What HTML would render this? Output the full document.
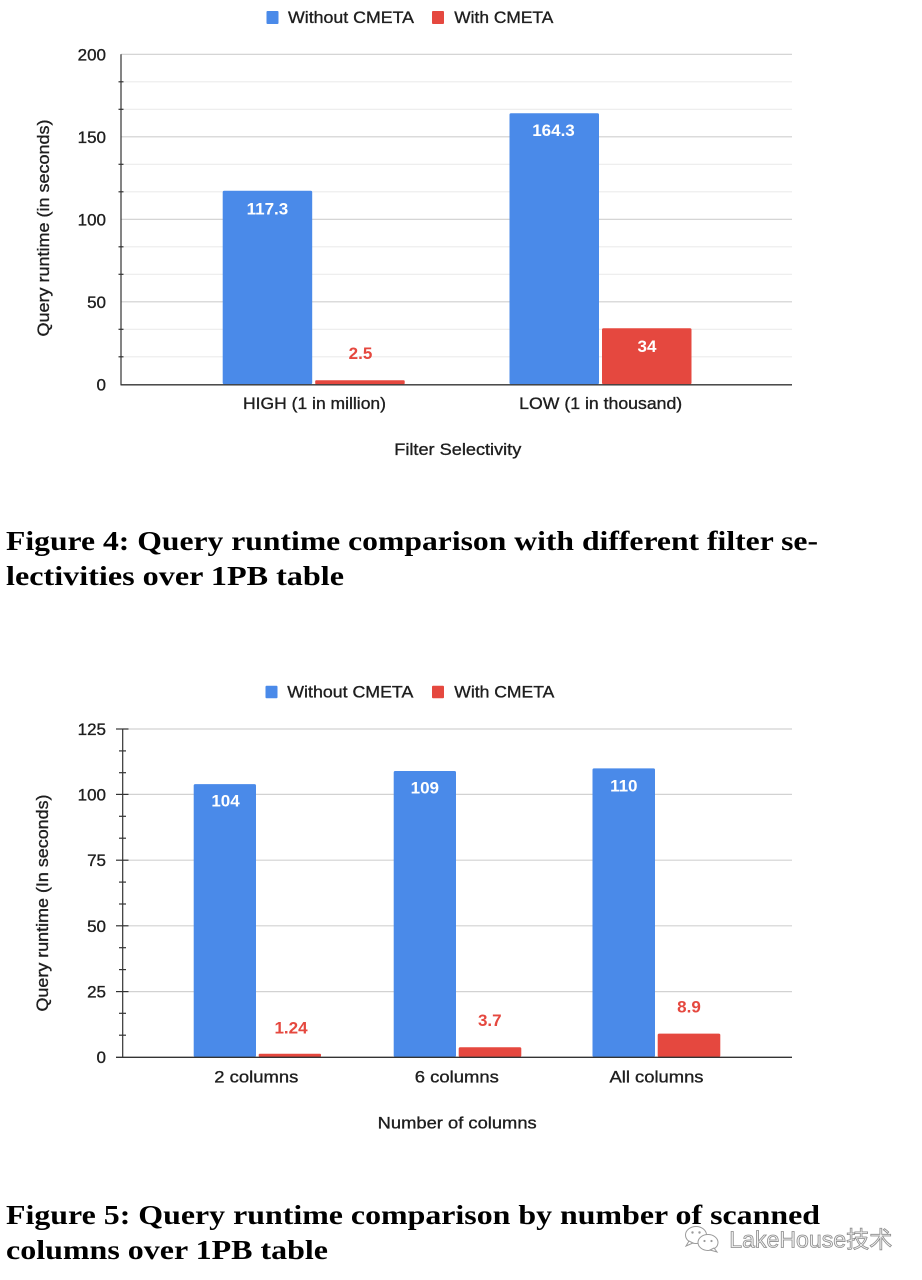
<!DOCTYPE html>
<html>
<head>
<meta charset="utf-8">
<style>
  html,body{margin:0;padding:0;background:#fff;}
  svg{display:block;}
  .t{font-family:"Liberation Sans","Noto Sans CJK SC",sans-serif;fill:#1e1e1e;font-size:17px;stroke:#1e1e1e;stroke-width:0.35;}
  .d{font-family:"Liberation Sans",sans-serif;font-size:17px;font-weight:bold;}
  .cap{font-family:"Liberation Serif","Noto Serif CJK SC",serif;font-weight:bold;fill:#000;font-size:27px;}
</style>
</head>
<body>
<svg width="922" height="1280" viewBox="0 0 922 1280" xmlns="http://www.w3.org/2000/svg">
  <rect x="0" y="0" width="922" height="1280" fill="#fff"/>

  <!-- ================= CHART 1 ================= -->
  <rect x="266.5" y="11" width="12" height="13" fill="#4a8ae9" rx="1"/>
  <text class="t" x="288" y="23" textLength="126" lengthAdjust="spacingAndGlyphs">Without CMETA</text>
  <rect x="432" y="11" width="12" height="13" fill="#e5483f" rx="1"/>
  <text class="t" x="454.3" y="23" textLength="99" lengthAdjust="spacingAndGlyphs">With CMETA</text>

  <g stroke="#ebebeb" stroke-width="1.2">
    <line x1="121" y1="356.8" x2="792" y2="356.8"/>
    <line x1="121" y1="329.3" x2="792" y2="329.3"/>
    <line x1="121" y1="274.3" x2="792" y2="274.3"/>
    <line x1="121" y1="246.8" x2="792" y2="246.8"/>
    <line x1="121" y1="191.8" x2="792" y2="191.8"/>
    <line x1="121" y1="164.3" x2="792" y2="164.3"/>
    <line x1="121" y1="109.3" x2="792" y2="109.3"/>
    <line x1="121" y1="81.8" x2="792" y2="81.8"/>
  </g>
  <g stroke="#cfcfcf" stroke-width="1.2">
    <line x1="121" y1="54.3" x2="792" y2="54.3"/>
    <line x1="121" y1="136.8" x2="792" y2="136.8"/>
    <line x1="121" y1="219.3" x2="792" y2="219.3"/>
    <line x1="121" y1="301.8" x2="792" y2="301.8"/>
  </g>
  <line x1="121" y1="54.3" x2="121" y2="385" stroke="#333" stroke-width="1.2"/>
  <g stroke="#333" stroke-width="1.2">
    <line x1="118.5" y1="356.8" x2="123.5" y2="356.8"/>
    <line x1="118.5" y1="329.3" x2="123.5" y2="329.3"/>
    <line x1="118.5" y1="274.3" x2="123.5" y2="274.3"/>
    <line x1="118.5" y1="246.8" x2="123.5" y2="246.8"/>
    <line x1="118.5" y1="191.8" x2="123.5" y2="191.8"/>
    <line x1="118.5" y1="164.3" x2="123.5" y2="164.3"/>
    <line x1="118.5" y1="109.3" x2="123.5" y2="109.3"/>
    <line x1="118.5" y1="81.8" x2="123.5" y2="81.8"/>
  </g>
  <g text-anchor="end">
    <text class="t" x="106" y="60.3">200</text>
    <text class="t" x="106" y="142.8">150</text>
    <text class="t" x="106" y="225.3">100</text>
    <text class="t" x="106" y="307.8">50</text>
    <text class="t" x="106" y="390.3">0</text>
  </g>
  <text class="t" transform="translate(49,228) rotate(-90)" text-anchor="middle" textLength="217" lengthAdjust="spacingAndGlyphs">Query runtime (in seconds)</text>

  <rect x="222.7" y="190.8" width="89.5" height="193.5" fill="#4a8ae9" rx="1.5"/>
  <rect x="315.2" y="380.2" width="89.5" height="4.1" fill="#e5483f" rx="1"/>
  <rect x="509.5" y="113.2" width="89.5" height="271.1" fill="#4a8ae9" rx="1.5"/>
  <rect x="602" y="328.2" width="89.5" height="56.1" fill="#e5483f" rx="1.5"/>
  <line x1="120.5" y1="384.8" x2="792" y2="384.8" stroke="#333" stroke-width="1.4"/>

  <text class="d" x="267.4" y="214.3" text-anchor="middle" fill="#fff">117.3</text>
  <text class="d" x="553.5" y="136" text-anchor="middle" fill="#fff">164.3</text>
  <text class="d" x="360.5" y="359" text-anchor="middle" fill="#e5483f">2.5</text>
  <text class="d" x="647" y="352" text-anchor="middle" fill="#fff">34</text>

  <text class="t" x="314.5" y="409" text-anchor="middle" textLength="143" lengthAdjust="spacingAndGlyphs">HIGH (1 in million)</text>
  <text class="t" x="600.7" y="409" text-anchor="middle" textLength="163" lengthAdjust="spacingAndGlyphs">LOW (1 in thousand)</text>
  <text class="t" x="457.8" y="455" text-anchor="middle" textLength="127" lengthAdjust="spacingAndGlyphs">Filter Selectivity</text>

  <text class="cap" x="6" y="550" textLength="812" lengthAdjust="spacingAndGlyphs">Figure 4: Query runtime comparison with different filter se-</text>
  <text class="cap" x="6" y="585" textLength="338" lengthAdjust="spacingAndGlyphs">lectivities over 1PB table</text>

  <!-- ================= CHART 2 ================= -->
  <rect x="265.5" y="685.7" width="12" height="12.6" fill="#4a8ae9" rx="1"/>
  <text class="t" x="287.3" y="697.7" textLength="126" lengthAdjust="spacingAndGlyphs">Without CMETA</text>
  <rect x="432" y="685.7" width="12" height="12.6" fill="#e5483f" rx="1"/>
  <text class="t" x="454.3" y="697.7" textLength="100" lengthAdjust="spacingAndGlyphs">With CMETA</text>

  <g stroke="#d2d2d2" stroke-width="1.2">
    <line x1="122.7" y1="729" x2="792" y2="729"/>
    <line x1="122.7" y1="794.4" x2="792" y2="794.4"/>
    <line x1="122.7" y1="860.2" x2="792" y2="860.2"/>
    <line x1="122.7" y1="925.8" x2="792" y2="925.8"/>
    <line x1="122.7" y1="991.6" x2="792" y2="991.6"/>
  </g>
  <line x1="122.7" y1="729" x2="122.7" y2="1057" stroke="#333" stroke-width="1.2"/>
  <g stroke="#333" stroke-width="1.2">
    <line x1="116" y1="729" x2="128.5" y2="729"/>
    <line x1="116" y1="794.4" x2="128.5" y2="794.4"/>
    <line x1="116" y1="860.2" x2="128.5" y2="860.2"/>
    <line x1="116" y1="925.8" x2="128.5" y2="925.8"/>
    <line x1="116" y1="991.6" x2="128.5" y2="991.6"/>
    <line x1="119" y1="750.9" x2="126" y2="750.9"/>
    <line x1="119" y1="772.7" x2="126" y2="772.7"/>
    <line x1="119" y1="816.3" x2="126" y2="816.3"/>
    <line x1="119" y1="838.2" x2="126" y2="838.2"/>
    <line x1="119" y1="882.1" x2="126" y2="882.1"/>
    <line x1="119" y1="904" x2="126" y2="904"/>
    <line x1="119" y1="947.7" x2="126" y2="947.7"/>
    <line x1="119" y1="969.6" x2="126" y2="969.6"/>
    <line x1="119" y1="1013.3" x2="126" y2="1013.3"/>
    <line x1="119" y1="1035.2" x2="126" y2="1035.2"/>
  </g>
  <g text-anchor="end">
    <text class="t" x="106" y="735">125</text>
    <text class="t" x="106" y="800.4">100</text>
    <text class="t" x="106" y="866.2">75</text>
    <text class="t" x="106" y="931.8">50</text>
    <text class="t" x="106" y="997.6">25</text>
    <text class="t" x="106" y="1063">0</text>
  </g>
  <text class="t" transform="translate(48,903) rotate(-90)" text-anchor="middle" textLength="217" lengthAdjust="spacingAndGlyphs">Query runtime (In seconds)</text>

  <rect x="193.7" y="784.1" width="62.3" height="272.9" fill="#4a8ae9" rx="1.5"/>
  <rect x="258.7" y="1053.7" width="62.3" height="3.3" fill="#e5483f" rx="1"/>
  <rect x="393.7" y="771" width="62.3" height="286" fill="#4a8ae9" rx="1.5"/>
  <rect x="458.7" y="1047.3" width="62.6" height="9.7" fill="#e5483f" rx="1.5"/>
  <rect x="592.5" y="768.4" width="62.5" height="288.6" fill="#4a8ae9" rx="1.5"/>
  <rect x="657.7" y="1033.6" width="62.6" height="23.4" fill="#e5483f" rx="1.5"/>
  <line x1="116" y1="1057.3" x2="792" y2="1057.3" stroke="#333" stroke-width="1.4"/>

  <text class="d" x="225.5" y="806.7" text-anchor="middle" fill="#fff">104</text>
  <text class="d" x="424.8" y="793.3" text-anchor="middle" fill="#fff">109</text>
  <text class="d" x="623.8" y="791.7" text-anchor="middle" fill="#fff">110</text>
  <text class="d" x="291" y="1033.7" text-anchor="middle" fill="#e5483f">1.24</text>
  <text class="d" x="489.8" y="1026" text-anchor="middle" fill="#e5483f">3.7</text>
  <text class="d" x="689" y="1012.7" text-anchor="middle" fill="#e5483f">8.9</text>

  <text class="t" x="256.3" y="1082.7" text-anchor="middle" textLength="84" lengthAdjust="spacingAndGlyphs">2 columns</text>
  <text class="t" x="456.8" y="1082.7" text-anchor="middle" textLength="84" lengthAdjust="spacingAndGlyphs">6 columns</text>
  <text class="t" x="656.5" y="1082.7" text-anchor="middle" textLength="94" lengthAdjust="spacingAndGlyphs">All columns</text>
  <text class="t" x="457.2" y="1128.7" text-anchor="middle" textLength="159" lengthAdjust="spacingAndGlyphs">Number of columns</text>

  <text class="cap" x="6" y="1224" textLength="814" lengthAdjust="spacingAndGlyphs">Figure 5: Query runtime comparison by number of scanned</text>
  <text class="cap" x="6" y="1259" textLength="322" lengthAdjust="spacingAndGlyphs">columns over 1PB table</text>

  <!-- watermark -->
  <g fill="#fff" stroke="#9a9a9a" stroke-width="1">
    <ellipse cx="696" cy="1235" rx="10.5" ry="8.5"/>
    <path d="M689 1241 L686 1246 L693 1243 Z"/>
    <ellipse cx="708" cy="1242.5" rx="10" ry="8"/>
    <path d="M714 1248 L717 1252 L710 1250 Z"/>
  </g>
  <g fill="#9a9a9a">
    <circle cx="692.5" cy="1232.5" r="1.2"/>
    <circle cx="699.5" cy="1232.5" r="1.2"/>
    <circle cx="704.5" cy="1241" r="1.1"/>
    <circle cx="711.5" cy="1241" r="1.1"/>
  </g>
  <text x="729.3" y="1247.7" textLength="163" lengthAdjust="spacingAndGlyphs" style="font-family:'Liberation Sans','Noto Sans CJK SC',sans-serif;font-size:23px;fill:#f2f2f2;stroke:#8c8c8c;stroke-width:0.8">LakeHouse技术</text>
</svg>
</body>
</html>
